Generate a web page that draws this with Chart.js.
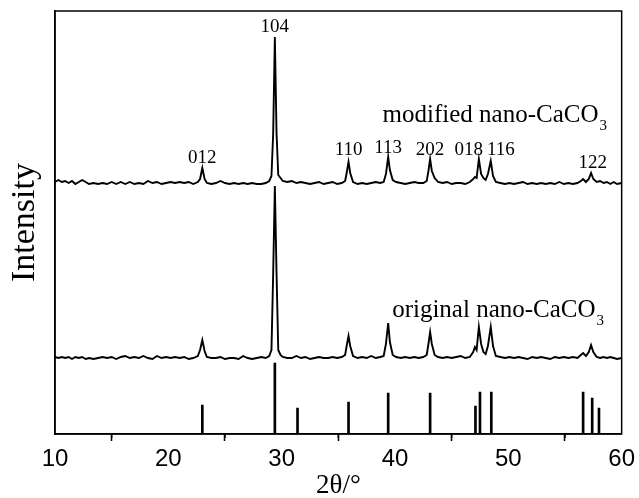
<!DOCTYPE html>
<html>
<head>
<meta charset="utf-8">
<script src="https://cdn.jsdelivr.net/npm/chart.js@4/dist/chart.umd.min.js"></script>
<style>
  html, body { margin: 0; padding: 0; background: #fff; }
  #wrap { width: 639px; height: 498px; }
</style>
</head>
<body>
<div id="wrap"><canvas id="xrd-chart"></canvas></div>
<script>
// modified nano-CaCO3 pattern (offset upward)
const modTheta = [10.0, 10.3, 10.6, 10.9, 11.2, 11.5, 11.8, 12.1, 12.4, 12.7, 13.0, 13.4, 13.8, 14.2, 14.6, 15.0, 15.4, 15.8, 16.2, 16.6,
  17.0, 17.4, 17.8, 18.2, 18.6, 19.0, 19.4, 19.8, 20.2, 20.6, 21.0, 21.4, 21.8, 22.2, 22.6, 22.8, 23.0, 23.2, 23.4, 23.8,
  24.2, 24.6, 25.0, 25.4, 25.8, 26.2, 26.6, 27.0, 27.4, 27.8, 28.2, 28.6, 28.9, 29.1, 29.25, 29.4, 29.55, 29.7, 29.9, 30.1,
  30.5, 30.9, 31.3, 31.7, 32.1, 32.5, 32.9, 33.3, 33.7, 34.1, 34.5, 34.9, 35.3, 35.6, 35.75, 35.9, 36.05, 36.3, 36.7, 37.1,
  37.5, 37.9, 38.3, 38.7, 39.0, 39.2, 39.4, 39.55, 39.8, 40.1, 40.5, 40.9, 41.3, 41.7, 42.1, 42.5, 42.8, 42.95, 43.1, 43.25,
  43.5, 43.8, 44.2, 44.6, 45.0, 45.4, 45.8, 46.2, 46.6, 46.9, 47.05, 47.2, 47.4, 47.6, 47.8, 48.0, 48.2, 48.45, 48.65, 48.9,
  49.3, 49.7, 50.1, 50.5, 50.9, 51.3, 51.7, 52.1, 52.5, 52.9, 53.3, 53.7, 54.1, 54.5, 54.9, 55.3, 55.7, 56.1, 56.4, 56.6,
  56.85, 57.1, 57.3, 57.5, 57.8, 58.1, 58.4, 58.7, 59.0, 59.3, 59.6, 60.0];
const modIntensity = [252, 254, 252, 253, 251, 253, 250, 252, 254, 252, 250, 251, 250, 251, 250, 252, 250, 252, 250, 252,
  250, 251, 250, 253, 251, 252, 250, 251, 252, 251, 252, 251, 252, 250, 252, 255, 266, 255, 251, 250,
  251, 253, 251, 250, 251, 250, 251, 250, 251, 250, 250, 251, 253, 258, 300, 397, 300, 259, 256, 253,
  252, 253, 251, 252, 251, 250, 251, 252, 250, 251, 252, 250, 251, 253, 262, 272, 261, 252, 250, 251,
  250, 251, 252, 251, 252, 260, 277, 264, 254, 252, 251, 250, 251, 252, 251, 251, 253, 263, 275, 263,
  256, 252, 251, 252, 250, 251, 251, 250, 252, 255, 257, 256, 275, 260, 256, 254, 260, 273, 258, 252,
  251, 250, 251, 250, 251, 252, 250, 251, 250, 251, 250, 251, 250, 252, 250, 251, 250, 251, 253, 255,
  252, 255, 261, 255, 252, 253, 251, 252, 250, 252, 250, 251];

// original nano-CaCO3 pattern
const origTheta = [10.0, 10.3, 10.6, 10.9, 11.2, 11.5, 11.8, 12.1, 12.4, 12.7, 13.0, 13.4, 13.8, 14.2, 14.6, 15.0, 15.4, 15.8, 16.2, 16.6,
  17.0, 17.4, 17.8, 18.2, 18.6, 19.0, 19.4, 19.8, 20.2, 20.6, 21.0, 21.4, 21.8, 22.2, 22.6, 22.8, 23.0, 23.2, 23.4, 23.8,
  24.2, 24.6, 25.0, 25.4, 25.8, 26.2, 26.6, 27.0, 27.4, 27.8, 28.2, 28.6, 28.9, 29.1, 29.25, 29.4, 29.55, 29.7, 29.9, 30.1,
  30.5, 30.9, 31.3, 31.7, 32.1, 32.5, 32.9, 33.3, 33.7, 34.1, 34.5, 34.9, 35.3, 35.6, 35.75, 35.9, 36.05, 36.3, 36.7, 37.1,
  37.5, 37.9, 38.3, 38.7, 39.0, 39.2, 39.4, 39.55, 39.8, 40.1, 40.5, 40.9, 41.3, 41.7, 42.1, 42.5, 42.8, 42.95, 43.1, 43.25,
  43.5, 43.8, 44.2, 44.6, 45.0, 45.4, 45.8, 46.2, 46.6, 46.9, 47.05, 47.2, 47.4, 47.6, 47.8, 48.0, 48.2, 48.45, 48.65, 48.9,
  49.3, 49.7, 50.1, 50.5, 50.9, 51.3, 51.7, 52.1, 52.5, 52.9, 53.3, 53.7, 54.1, 54.5, 54.9, 55.3, 55.7, 56.1, 56.4, 56.6,
  56.85, 57.1, 57.3, 57.5, 57.8, 58.1, 58.4, 58.7, 59.0, 59.3, 59.6, 60.0];
const origIntensity = [77, 76, 77, 76, 77, 75, 77, 76, 77, 75, 76, 75, 76, 77, 76, 77, 75, 77, 78, 76,
  77, 76, 78, 76, 75, 78, 76, 77, 76, 77, 76, 77, 75, 76, 78, 84, 94, 83, 77, 76,
  76, 77, 75, 76, 76, 75, 78, 76, 75, 76, 77, 76, 78, 84, 160, 248, 160, 84, 79, 77,
  76, 76, 78, 76, 77, 75, 76, 77, 76, 76, 77, 76, 77, 79, 89, 98, 88, 78, 76, 77,
  76, 78, 76, 77, 78, 90, 111, 92, 79, 77, 76, 77, 76, 77, 76, 77, 79, 90, 102, 90,
  79, 77, 76, 77, 76, 77, 78, 76, 77, 82, 87, 84, 107, 90, 82, 80, 88, 107, 88, 78,
  77, 76, 77, 76, 77, 76, 75, 77, 76, 77, 76, 75, 77, 76, 77, 76, 77, 76, 79, 81,
  78, 82, 89, 82, 77, 76, 77, 76, 77, 76, 75, 76];

// standard calcite reference lines
const refTheta = [23.0, 29.4, 31.4, 35.9, 39.4, 43.1, 47.1, 47.5, 48.5, 56.6, 57.4, 58.0];
const refIntensity = [29, 71, 26, 32, 41, 41, 28, 42, 42, 42, 36, 26];

// hkl labels above the modified pattern
const hklLabels = ['012', '104', '110', '113', '202', '018', '116', '122'];
const hklTheta = [23.0, 29.4, 35.9, 39.4, 43.1, 46.5, 49.35, 57.45];
const hklLevel = [276, 407, 284, 286, 284, 284, 284, 271];

// sample names (left edge position in data units)
const sampleNames = ['modified nano-CaCO', 'original nano-CaCO'];
const sampleTheta = [38.9, 39.75];
const sampleLevel = [319, 124];

const xTicks = [10, 20, 30, 40, 50, 60];
const xMinorTicks = [15, 25, 35, 45, 55];

function toPoints(xs, ys) {
  return xs.map((x, i) => ({ x: x, y: ys[i] }));
}

// frame, minor ticks and text annotations
const annotatePlugin = {
  id: 'annotate',
  afterDraw(chart) {
    const ctx = chart.ctx;
    const area = chart.chartArea;
    const xs = chart.scales.x;
    const ys = chart.scales.y;
    ctx.save();

    ctx.strokeStyle = '#000';
    ctx.lineWidth = 1.5;
    ctx.strokeRect(area.left, area.top, area.right - area.left, area.bottom - area.top);

    ctx.beginPath();
    xMinorTicks.forEach(v => {
      const px = xs.getPixelForValue(v);
      ctx.moveTo(px, area.bottom);
      ctx.lineTo(px, area.bottom + 4);
    });
    ctx.stroke();

    ctx.fillStyle = '#000';
    ctx.textAlign = 'center';
    ctx.textBaseline = 'middle';
    ctx.font = '19px "Liberation Serif", "Times New Roman", serif';
    hklLabels.forEach((t, i) => {
      ctx.fillText(t, xs.getPixelForValue(hklTheta[i]), ys.getPixelForValue(hklLevel[i]));
    });

    ctx.textAlign = 'left';
    sampleNames.forEach((t, i) => {
      const px = xs.getPixelForValue(sampleTheta[i]);
      const py = ys.getPixelForValue(sampleLevel[i]);
      ctx.font = '25px "Liberation Serif", "Times New Roman", serif';
      ctx.fillText(t, px, py);
      const w = ctx.measureText(t).width;
      ctx.font = '15px "Liberation Serif", "Times New Roman", serif';
      ctx.fillText('3', px + w + 1, py + 11);
    });
    ctx.restore();
  }
};

const ctx = document.getElementById('xrd-chart').getContext('2d');
const xrdChart = new Chart(ctx, {
  type: 'scatter',
  data: {
    datasets: [
      {
        type: 'line',
        label: 'modified nano-CaCO3',
        data: toPoints(modTheta, modIntensity),
        borderColor: '#000',
        borderWidth: 1.9,
        pointRadius: 0,
        tension: 0,
        fill: false
      },
      {
        type: 'line',
        label: 'original nano-CaCO3',
        data: toPoints(origTheta, origIntensity),
        borderColor: '#000',
        borderWidth: 1.9,
        pointRadius: 0,
        tension: 0,
        fill: false
      },
      {
        type: 'bar',
        label: 'reference',
        data: toPoints(refTheta, refIntensity),
        backgroundColor: '#000',
        barThickness: 2,
        borderWidth: 0
      }
    ]
  },
  options: {
    responsive: true,
    maintainAspectRatio: false,
    animation: false,
    layout: { padding: { top: 11, right: 16, left: 0, bottom: 0 } },
    plugins: {
      legend: { display: false },
      tooltip: { enabled: false }
    },
    scales: {
      x: {
        type: 'linear',
        min: 10,
        max: 60,
        offset: false,
        afterBuildTicks: scale => { scale.ticks = xTicks.map(v => ({ value: v })); },
        afterFit: scale => { scale.height = 64; },
        ticks: {
          color: '#000',
          padding: 4,
          maxRotation: 0,
          font: { family: '"Liberation Sans", Arial, sans-serif', size: 24 }
        },
        grid: {
          drawOnChartArea: false,
          drawTicks: true,
          tickLength: 7,
          tickWidth: 1.5,
          tickColor: '#000'
        },
        border: { display: true, color: '#000', width: 1.5 },
        title: {
          display: true,
          text: '2θ/°',
          color: '#000',
          padding: { top: 0, bottom: 0 },
          font: { family: '"Liberation Serif", "Times New Roman", serif', size: 27, lineHeight: 0.9 }
        }
      },
      y: {
        type: 'linear',
        min: 0,
        max: 423,
        afterFit: scale => { scale.width = 55; },
        ticks: { display: false },
        grid: { display: false, drawTicks: false },
        border: { display: true, color: '#000', width: 1.5 },
        title: {
          display: true,
          text: 'Intensity',
          color: '#000',
          padding: { top: 5, bottom: 0 },
          font: { family: '"Liberation Serif", "Times New Roman", serif', size: 34 }
        }
      }
    }
  },
  plugins: [annotatePlugin]
});
</script>
</body>
</html>
